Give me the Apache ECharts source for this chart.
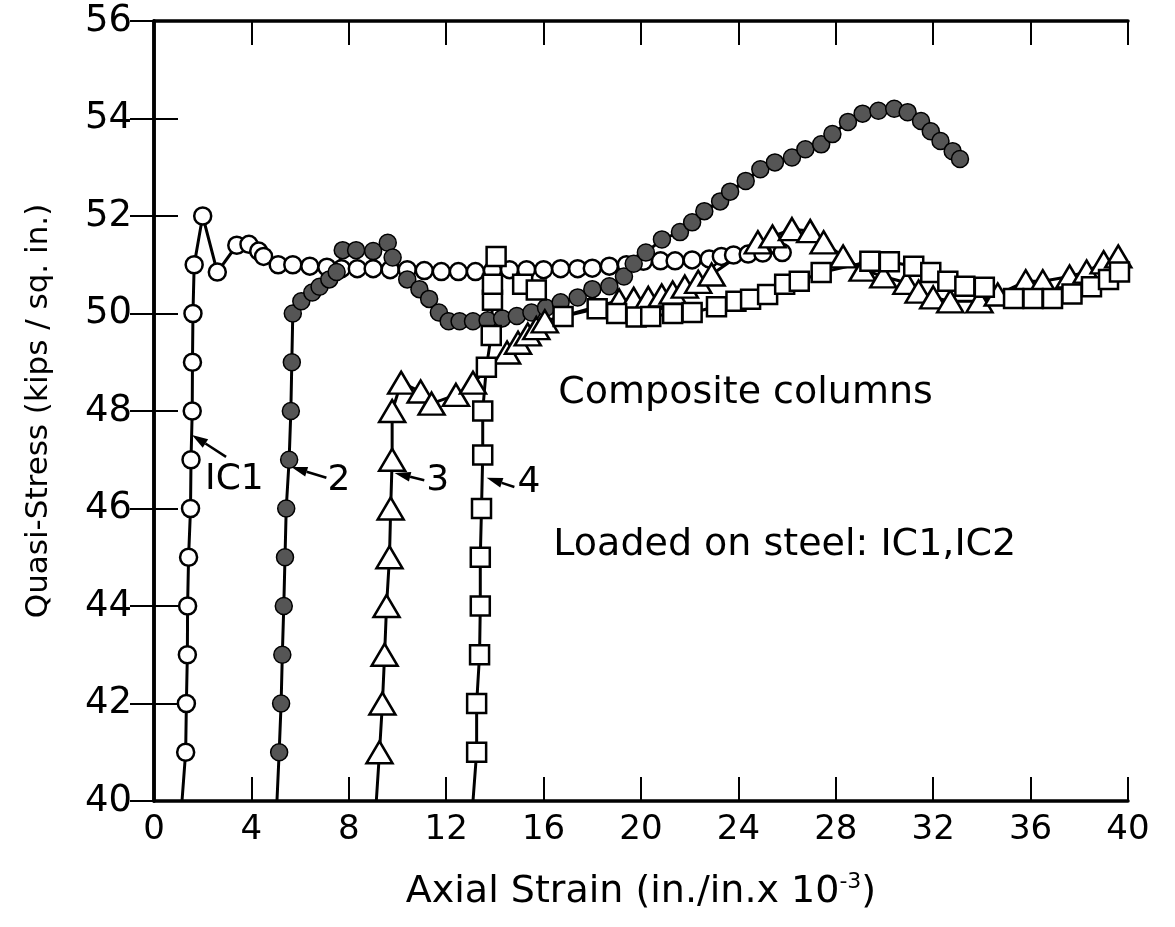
<!DOCTYPE html>
<html>
<head>
<meta charset="utf-8">
<script src="https://cdn.jsdelivr.net/npm/echarts@6/dist/echarts.min.js"></script>
<style>
html,body{margin:0;padding:0;background:#fff;}
#chart{width:1175px;height:927px;}
</style>
</head>
<body>
<div id="chart"></div>
<script>
// ---- Data (strain in in./in. x 10^-3, stress in ksi) ----
const xTicks = [0, 4, 8, 12, 16, 20, 24, 28, 32, 36, 40];
const yTicks = [40, 42, 44, 46, 48, 50, 52, 54, 56];

const ic1 = [[1.15,40],[1.3,41],[1.33,42],[1.37,43],[1.38,44],[1.42,45],[1.5,46],[1.52,47],[1.57,48],[1.58,49],[1.6,50],[1.65,51],[2.0,52],[2.6,50.85],[3.4,51.4],[3.9,51.42],[4.3,51.28],[4.5,51.17],[5.1,51.0],[5.7,51.0],[6.4,50.97],[7.1,50.95],[7.7,50.92],[8.35,50.92],[9.0,50.92],[9.7,50.9],[10.4,50.9],[11.1,50.88],[11.8,50.86],[12.5,50.86],[13.2,50.86],[13.9,50.88],[14.6,50.9],[15.3,50.9],[16.0,50.9],[16.7,50.92],[17.4,50.92],[18.0,50.93],[18.7,50.97],[19.4,51.0],[20.1,51.07],[20.8,51.08],[21.4,51.08],[22.1,51.1],[22.8,51.12],[23.3,51.17],[23.8,51.2],[24.4,51.22],[25.0,51.24],[25.8,51.25]];

const ic2 = [[5.05,40],[5.14,41],[5.22,42],[5.27,43],[5.33,44],[5.38,45],[5.43,46],[5.55,47],[5.62,48],[5.66,49],[5.7,50],[6.05,50.25],[6.5,50.43],[6.8,50.55],[7.2,50.7],[7.5,50.85],[7.75,51.3],[8.3,51.3],[9.0,51.28],[9.6,51.45],[9.8,51.15],[10.4,50.7],[10.9,50.5],[11.3,50.3],[11.7,50.02],[12.1,49.84],[12.55,49.84],[13.1,49.84],[13.7,49.86],[14.3,49.9],[14.9,49.95],[15.5,50.02],[16.1,50.12],[16.7,50.23],[17.4,50.33],[18.0,50.5],[18.7,50.56],[19.3,50.76],[19.7,51.02],[20.2,51.25],[20.86,51.52],[21.6,51.67],[22.1,51.87],[22.6,52.1],[23.25,52.3],[23.66,52.5],[24.3,52.72],[24.9,52.96],[25.5,53.1],[26.2,53.2],[26.75,53.37],[27.4,53.47],[27.86,53.68],[28.5,53.93],[29.1,54.1],[29.75,54.16],[30.4,54.2],[30.95,54.13],[31.5,53.95],[31.9,53.74],[32.3,53.54],[32.8,53.33],[33.1,53.17]];

const ic3 = [[9.13,40],[9.26,41],[9.38,42],[9.47,43],[9.55,44],[9.67,45],[9.72,46],[9.78,47],[9.78,48],[10.15,48.58],[10.95,48.4],[11.4,48.15],[12.4,48.33],[13.1,48.58],[14.5,49.2],[14.95,49.4],[15.35,49.57],[15.7,49.7],[16.05,49.84],[19.1,50.27],[19.7,50.3],[20.3,50.32],[20.85,50.37],[21.3,50.43],[21.8,50.55],[22.35,50.65],[22.9,50.8],[24.8,51.46],[25.4,51.58],[26.2,51.73],[26.95,51.69],[27.5,51.46],[28.3,51.17],[29.1,50.9],[29.95,50.76],[30.9,50.63],[31.4,50.45],[32.0,50.33],[32.7,50.25],[33.9,50.25],[34.65,50.39],[35.8,50.66],[36.5,50.66],[37.6,50.76],[38.3,50.86],[39.0,51.05],[39.6,51.17]];

const ic4 = [[13.1,40],[13.25,41],[13.25,42],[13.37,43],[13.4,44],[13.4,45],[13.45,46],[13.5,47.1],[13.5,48],[13.65,48.9],[13.85,49.55],[13.9,50.27],[13.9,50.6],[14.05,51.17],[15.14,50.6],[15.7,50.48],[16.8,49.94],[18.2,50.1],[19.0,50.0],[19.8,49.93],[20.4,49.94],[21.3,50.0],[22.1,50.02],[23.1,50.14],[23.9,50.25],[24.5,50.29],[25.2,50.39],[25.9,50.6],[26.5,50.66],[27.4,50.84],[29.4,51.07],[30.2,51.06],[31.2,50.97],[31.9,50.84],[32.6,50.66],[33.3,50.56],[34.1,50.54],[35.3,50.31],[36.1,50.31],[36.9,50.31],[37.7,50.4],[38.5,50.55],[39.2,50.7],[39.65,50.85]];

// annotation labels: [text, labelX, labelY, tailX, tailY, tipX, tipY]
const pointers = [
  ['IC1', 3.3, 46.6, 2.96, 47.06, 1.56, 47.51],
  ['2', 7.6, 46.58, 7.08, 46.63, 5.64, 46.85],
  ['3', 11.65, 46.58, 11.1, 46.58, 9.88, 46.73],
  ['4', 15.4, 46.54, 14.8, 46.44, 13.66, 46.63]
];
const notes = [
  ['Composite columns', 16.6, 48.37],
  ['Loaded on steel: IC1,IC2', 16.4, 45.25]
];

const FONT = 'DejaVu Sans';

function toData(arr) {
  return arr.map((p, i) => i === 0 ? {value: p, symbol: 'none'} : p);
}

function mkSeries(name, arr, symbol, size, fill, bw) {
  return {
    name: name, type: 'line', data: toData(arr),
    symbol: symbol, symbolSize: size, showAllSymbol: true,
    lineStyle: {color: '#000', width: 3},
    itemStyle: {color: fill, borderColor: '#000', borderWidth: bw},
    emphasis: {disabled: true}, animation: false, z: 3
  };
}

const axisLineStyle = {show: true, lineStyle: {color: '#000', width: 3.5}};
const tickStyle = {show: true, inside: true, length: 24, lineStyle: {color: '#000', width: 2}};

const chart = echarts.init(document.getElementById('chart'), null, {renderer: 'canvas'});
chart.setOption({
  backgroundColor: '#fff',
  animation: false,
  grid: {left: 154, right: 47, top: 21, bottom: 126, containLabel: false},
  xAxis: [
    {type: 'value', min: 0, max: 40, interval: 4, position: 'bottom',
     axisLine: axisLineStyle, axisTick: tickStyle, splitLine: {show: false},
     axisLabel: {color: '#000', fontSize: 34, fontFamily: FONT, margin: 12,
       formatter: v => xTicks.indexOf(v) >= 0 ? String(v) : ''},
     name: '{a|Axial Strain (in./in.x 10}{s|-3}{a|)}', nameLocation: 'middle', nameGap: 70,
     nameTextStyle: {rich: {
       a: {fontSize: 38, fontFamily: FONT, color: '#000'},
       s: {fontSize: 22, fontFamily: FONT, color: '#000', padding: [0, 0, 20, 0]}
     }}},
    {type: 'value', min: 0, max: 40, interval: 4, position: 'top',
     axisLine: axisLineStyle, axisTick: tickStyle, splitLine: {show: false},
     axisLabel: {show: false}}
  ],
  yAxis: [
    {type: 'value', min: 40, max: 56, interval: 2, position: 'left',
     axisLine: axisLineStyle, axisTick: tickStyle, splitLine: {show: false},
     axisLabel: {color: '#000', fontSize: 37, fontFamily: FONT, margin: 22,
       formatter: v => yTicks.indexOf(v) >= 0 ? String(v) : ''},
     name: 'Quasi-Stress (kips / sq. in.)', nameLocation: 'middle', nameGap: 100,
     nameTextStyle: {color: '#000', fontSize: 31, fontFamily: FONT}},
    {type: 'value', min: 40, max: 56, interval: 2, position: 'right',
     axisLine: axisLineStyle, axisTick: tickStyle, splitLine: {show: false},
     axisLabel: {show: false}}
  ],
  series: [
    mkSeries('IC1', ic1, 'circle', 17, '#fff', 2.5),
    mkSeries('IC2', ic2, 'circle', 17, '#555', 1.5),
    mkSeries('IC3', ic3, 'triangle', [26, 22], '#fff', 2.5),
    mkSeries('IC4', ic4, 'rect', 19, '#fff', 2.5)
  ]
});

function px(x, y) { return chart.convertToPixel({gridIndex: 0}, [x, y]); }

const g = [];
pointers.forEach(p => {
  const L = px(p[1], p[2]);
  const T0 = px(p[3], p[4]);
  const T1 = px(p[5], p[6]);
  g.push({type: 'text', x: L[0], y: L[1], z: 10,
    style: {text: p[0], fontSize: 36, fontFamily: FONT, fill: '#000', align: 'center', verticalAlign: 'middle'}});
  const dx = T1[0] - T0[0], dy = T1[1] - T0[1];
  const len = Math.sqrt(dx * dx + dy * dy);
  const ux = dx / len, uy = dy / len;
  const hl = 16, hw = 5;
  const bx = T1[0] - ux * hl, by = T1[1] - uy * hl;
  g.push({type: 'line', z: 10, shape: {x1: T0[0], y1: T0[1], x2: bx, y2: by},
    style: {stroke: '#000', lineWidth: 2.5}});
  g.push({type: 'polygon', z: 10, shape: {points: [[T1[0], T1[1]], [bx - uy * hw, by + ux * hw], [bx + uy * hw, by - ux * hw]]},
    style: {fill: '#000'}});
});
notes.forEach(n => {
  const P = px(n[1], n[2]);
  g.push({type: 'text', x: P[0], y: P[1], z: 10,
    style: {text: n[0], fontSize: 38, fontFamily: FONT, fill: '#000', align: 'left', verticalAlign: 'middle'}});
});
chart.setOption({graphic: g});
</script>
</body>
</html>
